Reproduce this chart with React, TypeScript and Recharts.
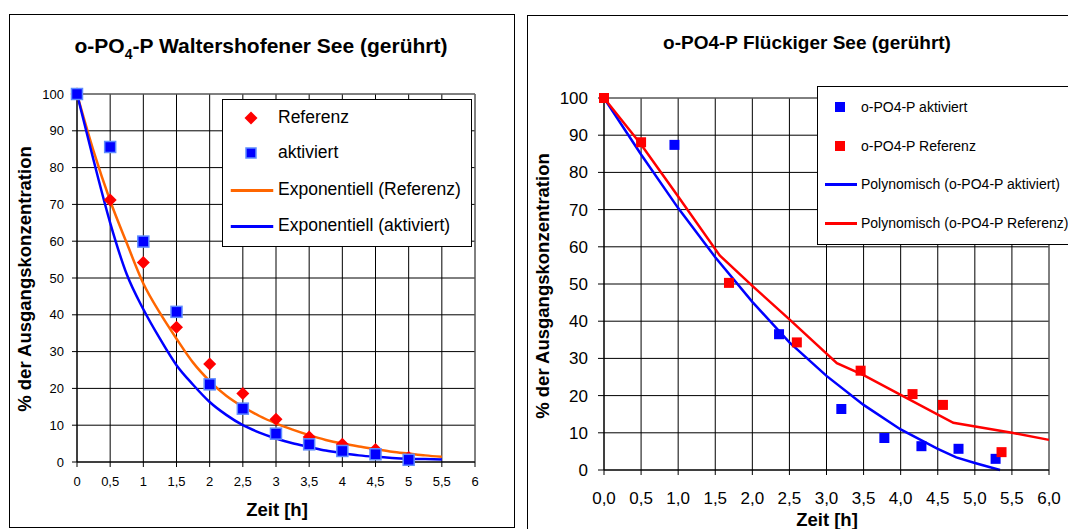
import { CartesianGrid, ComposedChart, Line, ReferenceLine, Scatter, XAxis, YAxis } from 'recharts'

// Waltershofener See: measured points (Zeit [h] / % der Ausgangskonzentration)
const wTimes = [0, 0.5, 1, 1.5, 2, 2.5, 3, 3.5, 4, 4.5, 5]
const wReferenz = [100, 71.2, 54.2, 36.6, 26.6, 18.6, 11.6, 6.8, 4.8, 3.4, 1.2]
const wAktiviert = [100, 85.6, 59.9, 40.8, 21.1, 14.5, 7.7, 4.8, 3.0, 2.1, 0.6]

// Waltershofener See: exponential trend lines
const wFitTimes = [0, 0.25, 0.5, 0.75, 1, 1.25, 1.5, 1.75, 2, 2.25, 2.5, 2.75, 3, 3.25, 3.5, 3.75, 4, 4.25, 4.5, 4.75, 5, 5.25, 5.5]
const wExpReferenz = [100, 84.5, 71, 59.5, 48.5, 40.5, 33.5, 27, 22, 18, 15, 12.5, 10.5, 8.8, 7.3, 6, 5, 4.2, 3.5, 2.8, 2.3, 1.8, 1.4]
const wExpAktiviert = [100, 82, 65, 51, 41.5, 33.5, 26.3, 21, 16.3, 12.8, 10, 8, 6.4, 5.1, 4.1, 3.1, 2.4, 1.8, 1.4, 1.1, 0.9, 0.8, 0.7]

// Flückiger See: measured points
const fAktTimes = [0, 0.95, 2.36, 3.2, 3.78, 4.28, 4.78, 5.28]
const fAktiviert = [100, 87.4, 36.5, 16.4, 8.6, 6.4, 5.7, 3.0]
const fRefTimes = [0, 0.5, 1.685, 2.6, 3.46, 4.16, 4.57, 5.36]
const fReferenz = [100, 88.1, 50.3, 34.3, 26.7, 20.4, 17.5, 4.8]

// Flückiger See: polynomial trend lines (vertices as drawn)
const fPolyAktTimes = [0, 0.5, 1, 1.5, 2, 2.5, 3, 3.5, 4, 4.5, 4.75, 5, 5.34]
const fPolyAktiviert = [100, 84.8, 70.4, 57.2, 45.2, 34.3, 25.3, 17.5, 10.9, 5.7, 3.4, 1.9, 0]
const fPolyRefTimes = [0, 0.5, 1, 1.56, 2, 2.5, 3.14, 3.5, 4, 4.71, 5.5, 6]
const fPolyReferenz = [100, 87.5, 73.5, 57.7, 49.5, 40.5, 28.7, 25.5, 20.2, 12.7, 10, 8.1]

const percentTicks = [0, 10, 20, 30, 40, 50, 60, 70, 80, 90, 100]
const hourTicks = [0, 0.5, 1, 1.5, 2, 2.5, 3, 3.5, 4, 4.5, 5, 5.5, 6]

const zip = (ts: number[], vs: number[]) => ts.map((t, i) => ({ t, v: vs[i] }))

const FONT = '"Liberation Sans", Arial, sans-serif'
const BLUE = '#0000ff'
const RED = '#ff0000'
const ORANGE = '#ff6600'
const EDGE = '#808080'

const Diamond = (props: any) => {
  const { cx, cy } = props
  const r = 6.5
  return <polygon points={`${cx},${cy - r} ${cx + r},${cy} ${cx},${cy + r} ${cx - r},${cy}`} fill={RED} />
}

const OutlinedSquare = (props: any) => {
  const { cx, cy } = props
  return <rect x={cx - 5.5} y={cy - 5.5} width={11} height={11} fill={BLUE} stroke='#5f8cff' strokeWidth={1.5} />
}

const square = (color: string) => (props: any) => {
  const { cx, cy } = props
  return <rect x={cx - 5} y={cy - 5} width={10} height={10} fill={color} />
}

const abs = (left: number, top: number, extra: React.CSSProperties = {}): React.CSSProperties => ({
  position: 'absolute',
  left,
  top,
  ...extra,
})

function CenteredText({ x, y, size, children, rotate }: { x: number; y: number; size: number; children: React.ReactNode; rotate?: boolean }) {
  return (
    <div
      style={abs(x, y, {
        transform: `translate(-50%, -50%)${rotate ? ' rotate(-90deg)' : ''}`,
        fontSize: size,
        fontWeight: 'bold',
        whiteSpace: 'nowrap',
        lineHeight: 1,
      })}
    >
      {children}
    </div>
  )
}

function WaltershofenerChart() {
  return (
    <ComposedChart width={503} height={511} margin={{ top: 79, right: 38, left: 0, bottom: 0 }}>
      <CartesianGrid stroke='#000' />
      <XAxis
        type='number'
        dataKey='t'
        domain={[0, 6]}
        ticks={hourTicks}
        interval={0}
        height={64}
        stroke='#000'
        tickSize={5}
        tickMargin={10}
        tick={{ fill: '#000', fontSize: 13, fontFamily: FONT }}
        tickFormatter={(v) => String(v).replace('.', ',')}
      />
      <YAxis
        type='number'
        domain={[0, 100]}
        ticks={percentTicks}
        interval={0}
        width={67}
        stroke='#000'
        tickSize={5}
        tickMargin={8}
        tick={{ fill: '#000', fontSize: 13, fontFamily: FONT }}
      />
      <ReferenceLine y={100} stroke={EDGE} />
      <ReferenceLine x={6} stroke={EDGE} />
      <Scatter data={zip(wTimes, wReferenz)} dataKey='v' shape={Diamond} isAnimationActive={false} />
      <Scatter data={zip(wTimes, wAktiviert)} dataKey='v' shape={OutlinedSquare} isAnimationActive={false} />
      <Line data={zip(wFitTimes, wExpReferenz)} dataKey='v' type='monotone' stroke={ORANGE} strokeWidth={2.5} dot={false} isAnimationActive={false} />
      <Line data={zip(wFitTimes, wExpAktiviert)} dataKey='v' type='monotone' stroke={BLUE} strokeWidth={2.5} dot={false} isAnimationActive={false} />
    </ComposedChart>
  )
}

function FlueckigerChart() {
  return (
    <ComposedChart width={540} height={513} margin={{ top: 82, right: 19, left: 0, bottom: 0 }}>
      <CartesianGrid stroke='#000' />
      <XAxis
        type='number'
        dataKey='t'
        domain={[0, 6]}
        ticks={hourTicks}
        interval={0}
        height={59}
        stroke='#000'
        tickSize={5}
        tickMargin={17}
        tick={{ fill: '#000', fontSize: 17, fontFamily: FONT }}
        tickFormatter={(v) => Number(v).toFixed(1).replace('.', ',')}
      />
      <YAxis
        type='number'
        domain={[0, 100]}
        ticks={percentTicks}
        interval={0}
        width={76}
        stroke='#000'
        tickSize={6}
        tickMargin={10}
        tick={{ fill: '#000', fontSize: 17, fontFamily: FONT }}
      />
      <ReferenceLine y={100} stroke={EDGE} />
      <ReferenceLine x={6} stroke={EDGE} />
      <Scatter data={zip(fAktTimes, fAktiviert)} dataKey='v' shape={square(BLUE)} isAnimationActive={false} />
      <Scatter data={zip(fRefTimes, fReferenz)} dataKey='v' shape={square(RED)} isAnimationActive={false} />
      <Line data={zip(fPolyAktTimes, fPolyAktiviert)} dataKey='v' type='linear' stroke={BLUE} strokeWidth={2.5} dot={false} isAnimationActive={false} />
      <Line data={zip(fPolyRefTimes, fPolyReferenz)} dataKey='v' type='linear' stroke={RED} strokeWidth={2.5} dot={false} isAnimationActive={false} />
    </ComposedChart>
  )
}

function LegendRow({ y, marker, text, size, markerX, textX }: { y: number; marker: React.ReactNode; text: string; size: number; markerX: number; textX: number }) {
  return (
    <>
      <div style={abs(markerX, y, { transform: 'translate(-50%, -50%)', lineHeight: 0 })}>{marker}</div>
      <div style={abs(textX, y, { transform: 'translateY(-50%)', fontSize: size, whiteSpace: 'nowrap', lineHeight: 1 })}>{text}</div>
    </>
  )
}

const lineSample = (color: string, w: number) => (
  <svg width={w} height={4}>
    <line x1={0} y1={2} x2={w} y2={2} stroke={color} strokeWidth={3} />
  </svg>
)

export default function App() {
  return (
    <div style={{ position: 'absolute', left: 0, top: 0, width: 1068, height: 529, overflow: 'hidden', background: '#fff', fontFamily: FONT, color: '#000' }}>
      {/* left panel */}
      <div style={abs(9, 14, { width: 506, height: 514, border: '1px solid #000', boxSizing: 'border-box' })} />
      <div style={abs(10, 15)}>
        <WaltershofenerChart />
      </div>
      <CenteredText x={261} y={45} size={21}>
        o-PO<span style={{ fontSize: 14, position: 'relative', top: 6 }}>4</span>-P Waltershofener See (gerührt)
      </CenteredText>
      <CenteredText x={25} y={279} size={18.5} rotate>
        % der Ausgangskonzentration
      </CenteredText>
      <CenteredText x={277} y={510} size={18.5}>
        Zeit [h]
      </CenteredText>
      <div style={abs(222, 99, { width: 250, height: 148, border: '1px solid #000', boxSizing: 'border-box', background: '#fff' })} />
      <LegendRow
        y={118}
        markerX={251}
        textX={278}
        size={17.5}
        text='Referenz'
        marker={<svg width={14} height={14}><polygon points='7,0.5 13.5,7 7,13.5 0.5,7' fill={RED} /></svg>}
      />
      <LegendRow
        y={153}
        markerX={251}
        textX={278}
        size={17.5}
        text='aktiviert'
        marker={<svg width={12} height={12}><rect x={1} y={1} width={10} height={10} fill={BLUE} stroke='#5f8cff' strokeWidth={1.5} /></svg>}
      />
      <LegendRow y={190} markerX={251.5} textX={278} size={17.5} text='Exponentiell (Referenz)' marker={lineSample(ORANGE, 43)} />
      <LegendRow y={226} markerX={251.5} textX={278} size={17.5} text='Exponentiell (aktiviert)' marker={lineSample(BLUE, 43)} />

      {/* right panel */}
      <div style={abs(527, 15, { width: 700, height: 700, border: '1px solid #000', boxSizing: 'border-box' })} />
      <div style={abs(528, 16)}>
        <FlueckigerChart />
      </div>
      <CenteredText x={807} y={42} size={19}>
        o-PO4-P Flückiger See (gerührt)
      </CenteredText>
      <CenteredText x={543} y={286} size={18.5} rotate>
        % der Ausgangskonzentration
      </CenteredText>
      <CenteredText x={827} y={520} size={18.5}>
        Zeit [h]
      </CenteredText>
      <div style={abs(817, 86, { width: 400, height: 159, border: '1px solid #000', boxSizing: 'border-box', background: '#fff' })} />
      <LegendRow y={107} markerX={840} textX={861} size={14} text='o-PO4-P aktiviert' marker={<svg width={10} height={10}><rect width={10} height={10} fill={BLUE} /></svg>} />
      <LegendRow y={146} markerX={840} textX={861} size={14} text='o-PO4-P Referenz' marker={<svg width={10} height={10}><rect width={10} height={10} fill={RED} /></svg>} />
      <LegendRow y={184} markerX={841} textX={861} size={14} text='Polynomisch (o-PO4-P aktiviert)' marker={lineSample(BLUE, 32)} />
      <LegendRow y={223} markerX={841} textX={861} size={14} text='Polynomisch (o-PO4-P Referenz)' marker={lineSample(RED, 32)} />
    </div>
  )
}
